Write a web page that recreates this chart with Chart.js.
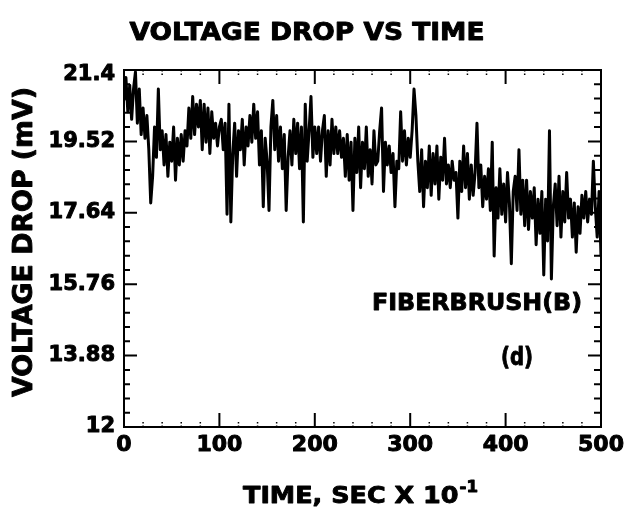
<!DOCTYPE html>
<html>
<head>
<meta charset="utf-8">
<title>Voltage drop vs time</title>
<script src="https://cdn.jsdelivr.net/npm/chart.js@4.4.1/dist/chart.umd.min.js"></script>
<style>
    html, body { margin: 0; padding: 0; background: #fff; }
    #grafica { display: block; }
</style>
</head>
<body>
<canvas id="grafica" width="627" height="516"></canvas>
<script>
const chartTitle = 'VOLTAGE DROP VS TIME';
const yTitle = 'VOLTAGE DROP (mV)';
const xTitle = 'TIME, SEC X 10';
const xTitleExp = '-1';
const noteBrush = 'FIBERBRUSH(B)';
const notePanel = '(d)';

const xTicks = [0, 100, 200, 300, 400, 500];
const yTicks = [12, 13.88, 15.76, 17.64, 19.52, 21.4];

const sampleStep = 2;
const voltage = [
    20.6, 21.2, 20.3, 21.0, 20.1, 20.9, 21.35, 20.0, 20.9, 19.7,
    20.4, 19.6, 20.2, 19.3, 17.9, 18.6, 19.9, 19.1, 20.9, 19.3,
    19.8, 18.9, 19.7, 18.6, 19.5, 19.0, 19.9, 18.5, 19.6, 18.9,
    19.7, 19.0, 19.8, 19.4, 20.4, 19.6, 20.7, 19.7, 20.5, 19.9,
    20.6, 19.3, 20.5, 19.5, 20.4, 19.2, 20.3, 19.6, 20.0, 19.4,
    19.9, 20.1, 19.3, 20.0, 17.6, 20.5, 17.4, 19.2, 20.0, 18.6,
    19.8, 19.3, 20.1, 18.9, 19.9, 19.4, 20.2, 19.5, 20.5, 19.6,
    20.3, 18.9, 19.8, 17.8, 19.6, 19.0, 17.7, 19.9, 20.6, 19.3,
    20.2, 19.0, 19.9, 18.8, 19.7, 17.7, 19.1, 19.8, 18.9, 20.1,
    19.2, 20.0, 18.8, 19.9, 17.4, 20.5, 19.0, 19.8, 20.7, 19.1,
    19.9, 19.2, 19.9, 19.0, 19.8, 20.2, 18.6, 19.8, 18.9, 20.1,
    19.2, 19.9, 19.2, 19.8, 19.1, 19.6, 18.6, 19.7, 18.5, 19.5,
    17.7, 19.6, 18.7, 19.9, 18.3, 19.5, 18.8, 19.9, 18.6, 19.3,
    18.4, 19.8, 18.9, 19.0, 19.8, 20.4, 18.2, 19.5, 18.9, 19.4,
    18.7, 19.2, 17.8, 19.0, 18.8, 20.3, 19.0, 19.8, 18.9, 19.6,
    19.1, 19.8, 20.9, 20.2, 19.0, 18.2, 19.3, 17.8, 19.0, 18.3,
    19.4, 18.1, 19.2, 18.4, 19.4, 18.0, 19.1, 18.5, 19.6, 18.4,
    18.9, 18.3, 19.0, 18.5, 18.7, 17.5, 19.0, 18.2, 19.4, 18.3,
    19.2, 18.0, 18.9, 18.1, 18.7, 20.0, 18.3, 18.9, 17.8, 18.6,
    18.0, 18.8, 17.7, 19.5, 16.5, 18.3, 17.5, 18.8, 17.6, 18.4,
    17.4, 18.7, 17.9, 16.3, 18.2, 18.6, 17.7, 19.3, 17.6, 18.5,
    17.3, 18.5, 17.2, 18.2, 17.5, 18.3, 16.8, 18.0, 17.1, 18.2,
    16.0, 18.0, 16.9, 19.8, 15.9, 17.8, 18.4, 17.3, 18.6, 17.0,
    18.2, 17.4, 18.7, 17.5, 18.0, 17.0, 17.9, 16.6, 17.8, 17.1,
    18.1, 17.5, 18.2, 17.4, 18.0, 17.6, 19.0, 17.8, 17.0, 18.2,
    16.5
];

const points = voltage.map((v, i) => ({ x: i * sampleStep, y: v }));

const boldFont = '"DejaVu Sans", "Liberation Sans", Arial, sans-serif';

// heavy lettering: fill + thin stroke, optionally stretched to a width
function heavyText(ctx, text, x, y, size, opts = {}) {
    ctx.font = `bold ${size}px ${boldFont}`;
    const w = ctx.measureText(text).width;
    const sx = opts.width ? opts.width / w : 1;
    ctx.save();
    ctx.translate(x, y);
    ctx.scale(sx, 1);
    ctx.textAlign = opts.align || 'center';
    ctx.textBaseline = opts.baseline || 'alphabetic';
    ctx.lineWidth = opts.stroke === undefined ? 0.9 : opts.stroke;
    ctx.lineJoin = 'round';
    ctx.fillText(text, 0, 0);
    if (ctx.lineWidth > 0) ctx.strokeText(text, 0, 0);
    ctx.restore();
}

const framePlugin = {
    id: 'frame',
    afterDatasetsDraw(chart) {
        const ctx = chart.ctx;
        const { left, right, top, bottom } = chart.chartArea;
        const xs = chart.scales.x;
        const ys = chart.scales.y;

        ctx.save();
        ctx.strokeStyle = '#000';
        ctx.fillStyle = '#000';

        // box
        ctx.lineWidth = 2;
        ctx.strokeRect(left, top, right - left, bottom - top);

        // y ticks, major + 4 minor, on both sides pointing in
        yTicks.forEach((v, i) => {
            const py = ys.getPixelForValue(v);
            ctx.lineWidth = 2;
            ctx.beginPath();
            ctx.moveTo(left, py); ctx.lineTo(left + 13, py);
            ctx.moveTo(right, py); ctx.lineTo(right - 13, py);
            ctx.stroke();
            if (i < yTicks.length - 1) {
                const step = (yTicks[i + 1] - v) / 5;
                for (let k = 1; k < 5; k++) {
                    const my = ys.getPixelForValue(v + k * step);
                    ctx.beginPath();
                    ctx.moveTo(left, my); ctx.lineTo(left + 6, my);
                    ctx.moveTo(right, my); ctx.lineTo(right - 7, my);
                    ctx.stroke();
                }
            }
            heavyText(ctx, String(v), 115, Math.max(py, top + 5), 21, { align: 'right', baseline: 'middle', stroke: 1 });
        });

        // x ticks top and bottom
        xTicks.forEach((v, i) => {
            const px = xs.getPixelForValue(v);
            ctx.lineWidth = 2;
            ctx.beginPath();
            ctx.moveTo(px, bottom); ctx.lineTo(px, bottom - 14);
            ctx.moveTo(px, top); ctx.lineTo(px, top + 14);
            ctx.stroke();
            if (i < xTicks.length - 1) {
                const step = (xTicks[i + 1] - v) / 5;
                ctx.lineWidth = 1.5;
                ctx.setLineDash([1.5, 2]);
                for (let k = 1; k < 5; k++) {
                    const mx = xs.getPixelForValue(v + k * step);
                    ctx.beginPath();
                    ctx.moveTo(mx, bottom); ctx.lineTo(mx, bottom - 7);
                    ctx.moveTo(mx, top); ctx.lineTo(mx, top + 7);
                    ctx.stroke();
                }
                ctx.setLineDash([]);
            }
            heavyText(ctx, String(v), px, 451, 22, { stroke: 1 });
        });

        // titles and notes
        heavyText(ctx, chartTitle, 307, 40, 24, { width: 355 });
        heavyText(ctx, noteBrush, 477, 310, 23, { width: 210 });
        heavyText(ctx, notePanel, 517, 365, 24, { width: 32 });

        // y title, rotated
        ctx.save();
        ctx.translate(32, 242);
        ctx.rotate(-Math.PI / 2);
        heavyText(ctx, yTitle, 0, 0, 26, { width: 310 });
        ctx.restore();

        // x title with superscript exponent
        ctx.font = `bold 23px ${boldFont}`;
        const w1 = ctx.measureText(xTitle).width;
        ctx.font = `bold 15px ${boldFont}`;
        const w2 = ctx.measureText(xTitleExp).width;
        const sx = 235 / (w1 + w2 + 1);
        ctx.save();
        ctx.translate(243, 503);
        ctx.scale(sx, 1);
        heavyText(ctx, xTitle, 0, 0, 23, { align: 'left' });
        heavyText(ctx, xTitleExp, w1 + 1, -11, 15, { align: 'left' });
        ctx.restore();

        ctx.restore();
    }
};

const canvas = document.getElementById('grafica');

const chart = new Chart(canvas, {
    type: 'line',
    data: {
        datasets: [{
            label: 'Voltage drop',
            data: points,
            borderColor: '#000',
            borderWidth: 3,
            borderJoinStyle: 'round',
            pointRadius: 0,
            fill: false,
            tension: 0
        }]
    },
    options: {
        responsive: false,
        animation: false,
        layout: { padding: { left: 0, right: 26, top: 70, bottom: 0 } },
        plugins: {
            legend: { display: false },
            title: { display: false },
            tooltip: { enabled: false }
        },
        scales: {
            x: {
                type: 'linear',
                min: 0,
                max: 500,
                grid: { display: false, drawTicks: false },
                border: { display: false },
                afterBuildTicks: (scale) => { scale.ticks = xTicks.map(v => ({ value: v })); },
                afterFit: (scale) => { scale.height = 89; },
                ticks: { display: false }
            },
            y: {
                min: 12,
                max: 21.4,
                grid: { display: false, drawTicks: false },
                border: { display: false },
                afterBuildTicks: (scale) => { scale.ticks = yTicks.map(v => ({ value: v })); },
                afterFit: (scale) => { scale.width = 124; },
                ticks: { display: false }
            }
        }
    },
    plugins: [framePlugin]
});
</script>
</body>
</html>
